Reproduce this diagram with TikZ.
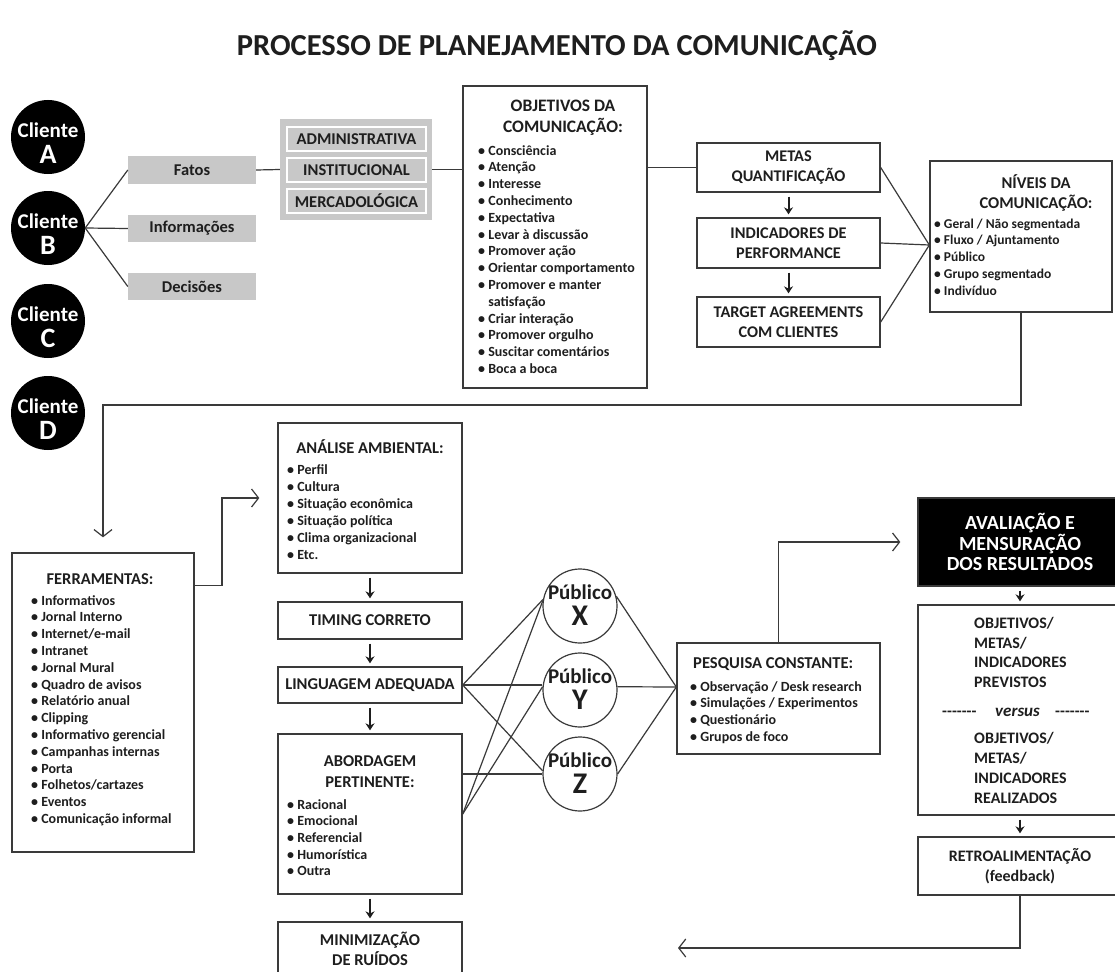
\documentclass[tikz,border=0pt]{standalone}
\usepackage{fontspec}
\setmainfont{Carlito}
\usetikzlibrary{arrows.meta}
\definecolor{ink}{HTML}{1E1E1E}
\definecolor{ln}{HTML}{3A3A3A}
\definecolor{greyfill}{HTML}{C8C8C8}
\newcommand{\fs}[1]{\fontsize{#1}{#1}\selectfont}
\newcommand{\fsl}[2]{\fontsize{#1}{#2}\selectfont}
\newcommand{\bul}{•\ }
\newcommand{\nob}{\phantom{•}\ }
\begin{document}
\begin{tikzpicture}[x=1pt,y=-1pt,
  box/.style={draw=ln, line width=1.4pt, fill=white, inner sep=0pt, text=ink, font=\bfseries},
  gbox/.style={fill=greyfill, inner sep=0pt, text=ink, font=\bfseries\fs{16.5}},
  conn/.style={draw=ln, line width=1.2pt},
  darr/.style={line width=2pt, draw=ink, -{Stealth[length=7pt,width=9pt]}, shorten >=3pt, shorten <=4pt},
  barb/.style={-{Straight Barb[length=7pt,width=18pt,line width=1.2pt]}},
  txt/.style={inner sep=0pt, text=ink, font=\bfseries},
  item/.style={txt, font=\bfseries\fs{14}, anchor=base west},
  btitle/.style={txt, font=\bfseries\fs{16.5}, anchor=base},
  omt/.style={txt, font=\bfseries\fs{16}, anchor=base west},
  pub/.style={circle, draw=ln, line width=1.2pt, fill=white, minimum size=74pt, inner sep=0pt},
]
\useasboundingbox (0,0) rectangle (1115,971);
\clip (0,0) rectangle (1115,971);
\fill[white] (0,0) rectangle (1115,971);

% title
\node[txt, font=\bfseries\fs{30.5}] (title) at (557,46) {PROCESSO DE PLANEJAMENTO DA COMUNICAÇÃO};

% clients
\foreach \n/\yy in {A/137,B/228,C/321,D/413} {
  \node[circle, fill=black, minimum size=74pt, inner sep=0pt] (cli\n) at (48,\yy) {};
  \node[txt, text=white, font=\bfseries\fs{21}, anchor=base] (cliT\n) at (48,\yy) {Cliente};
  \node[txt, text=white, font=\bfseries\fs{28}, anchor=base] (cliL\n) at (48,\yy+26) {\n};
}

% grey boxes
\node[gbox, minimum width=128pt, minimum height=28pt] (fatos) at (192,170) {Fatos};
\node[gbox, minimum width=128pt, minimum height=27pt] (info) at (192,228.5) {Informações};
\node[gbox, minimum width=128pt, minimum height=27pt] (dec) at (192,286.5) {Decisões};
\node[gbox, minimum width=152pt, minimum height=101pt] (grp) at (356,169.5) {};
\node[gbox, draw=white, line width=1.6pt, minimum width=139pt, minimum height=24pt] (adm) at (356.5,139) {ADMINISTRATIVA};
\node[gbox, draw=white, line width=1.6pt, minimum width=139pt, minimum height=24pt] (inst) at (356.5,170) {INSTITUCIONAL};
\node[gbox, draw=white, line width=1.6pt, minimum width=139pt, minimum height=24pt] (merc) at (356.5,201) {MERCADOLÓGICA};

% objetivos
\node[box, minimum width=184pt, minimum height=302pt] (obj) at (555,237) {};
\node[btitle, font=\bfseries\fs{17.5}] (objT1) at (563,112) {OBJETIVOS DA};
\node[btitle, font=\bfseries\fs{17.5}] (objT2) at (563,132) {COMUNICAÇÃO:};
\foreach \t [count=\i from 0] in {\bul Consciência,\bul Atenção,\bul Interesse,\bul Conhecimento,\bul Expectativa,\bul Levar à discussão,\bul Promover ação,\bul Orientar comportamento,\bul Promover e manter,\nob satisfação,\bul Criar interação,\bul Promover orgulho,\bul Suscitar comentários,\bul Boca a boca}
  \node[item] (obji\i) at (478,155+\i*16.8) {\t};

% metas column
\node[box, font=\bfseries\fsl{16.3}{20}, align=center, minimum width=183pt, minimum height=49pt] (metas) at (788.5,167.5) {METAS\\QUANTIFICAÇÃO};
\node[box, font=\bfseries\fsl{16.3}{20}, align=center, minimum width=183pt, minimum height=50pt] (ind) at (788.5,243) {INDICADORES DE\\PERFORMANCE};
\node[box, font=\bfseries\fsl{16.3}{20}, align=center, minimum width=183pt, minimum height=50pt] (target) at (788.5,322) {TARGET AGREEMENTS\\COM CLIENTES};

% niveis
\node[box, minimum width=182pt, minimum height=151pt] (niveis) at (1021,236.5) {};
\node[btitle] (nivT1) at (1036,188) {NÍVEIS DA};
\node[btitle] (nivT2) at (1036,208) {COMUNICAÇÃO:};
\foreach \t [count=\i from 0] in {Geral / Não segmentada,Fluxo / Ajuntamento,Público,Grupo segmentado,Indivíduo}
  \node[item, font=\bfseries\fs{13.5}] (nivi\i) at (934,228+\i*16.8) {\bul\t};

% ferramentas
\node[box, minimum width=182pt, minimum height=299pt] (ferr) at (103,702.5) {};
\node[btitle] (ferrT) at (100,584) {FERRAMENTAS:};
\foreach \t [count=\i from 0] in {Informativos,Jornal Interno,Internet/e-mail,Intranet,Jornal Mural,Quadro de avisos,Relatório anual,Clipping,Informativo gerencial,Campanhas internas,Porta,Folhetos/cartazes,Eventos,Comunicação informal}
  \node[item] (ferri\i) at (31,605+\i*16.8) {\bul\t};

% analise column
\node[box, minimum width=184pt, minimum height=150pt] (analise) at (370,498) {};
\node[btitle] (anaT) at (370,453) {ANÁLISE AMBIENTAL:};
\foreach \t [count=\i from 0] in {Perfil,Cultura,Situação econômica,Situação política,Clima organizacional,Etc.}
  \node[item] (anai\i) at (287,474+\i*17.1) {\bul\t};
\node[box, font=\bfseries\fs{16.5}, minimum width=184pt, minimum height=37pt] (timing) at (370,620.5) {TIMING CORRETO};
\node[box, font=\bfseries\fs{16.5}, minimum width=184pt, minimum height=36pt] (ling) at (370,685) {LINGUAGEM ADEQUADA};
\node[box, minimum width=184pt, minimum height=160pt] (abord) at (370,814) {};
\node[btitle] (abT1) at (370,766) {ABORDAGEM};
\node[btitle] (abT2) at (370,787) {PERTINENTE:};
\foreach \t [count=\i from 0] in {Racional,Emocional,Referencial,Humorística,Outra}
  \node[item] (abi\i) at (287,809+\i*16.7) {\bul\t};
\node[box, minimum width=184pt, minimum height=78pt] (minim) at (370,961) {};
\node[btitle] (miT1) at (370,945) {MINIMIZAÇÃO};
\node[btitle] (miT2) at (370,965) {DE RUÍDOS};

% publicos
\foreach \n/\yy in {X/606,Y/690,Z/774} {
  \node[pub] (\n) at (580,\yy) {};
  \node[txt, font=\bfseries\fs{21}, anchor=base] (\n T) at (580,\yy-7) {Público};
  \node[txt, font=\bfseries\fs{30}, anchor=base] (\n L) at (580,\yy+19) {\n};
}

% pesquisa
\node[box, minimum width=203pt, minimum height=111pt] (pesq) at (778.5,698.5) {};
\node[txt, font=\bfseries\fs{16.6}, anchor=base west] (pesT) at (693,668) {PESQUISA CONSTANTE:};
\foreach \t [count=\i from 0] in {Observação / Desk research,Simulações / Experimentos,Questionário,Grupos de foco}
  \node[item] (pesi\i) at (690,691+\i*16.7) {\bul\t};

% avaliacao column
\node[box, fill=black, text=white, font=\bfseries\fsl{20}{20.5}, align=center, minimum width=204pt, minimum height=88pt] (aval) at (1020,542) {AVALIAÇÃO E\\MENSURAÇÃO\\DOS RESULTADOS};
\node[box, minimum width=204pt, minimum height=210pt] (objm) at (1020,710) {};
\node[omt] (om1) at (974,628) {OBJETIVOS/};
\node[omt] (om2) at (974,648) {METAS/};
\node[omt] (om3) at (974,667) {INDICADORES};
\node[omt] (om4) at (974,687) {PREVISTOS};
\node[omt] (om5) at (974,743) {OBJETIVOS/};
\node[omt] (om6) at (974,763) {METAS/};
\node[omt] (om7) at (974,783) {INDICADORES};
\node[omt] (om8) at (974,803) {REALIZADOS};
\node[omt] (vd1) at (942,716) {-{}-{}-{}-{}-{}-{}-};
\node[txt, font=\bfseries\itshape\fs{17}, anchor=base west] (vs) at (995,716) {versus};
\node[omt] (vd2) at (1055,716) {-{}-{}-{}-{}-{}-{}-};
\node[box, font=\bfseries\fsl{16}{20}, align=center, minimum width=204pt, minimum height=58pt] (retro) at (1020,866) {RETROALIMENTAÇÃO\\(feedback)};

% down arrows
\draw[darr] (metas.south) -- (ind.north);
\draw[darr] (ind.south) -- (target.north);
\draw[darr] (analise.south) -- (timing.north);
\draw[darr] (timing.south) -- (ling.north);
\draw[darr] (ling.south) -- (abord.north);
\draw[darr] (abord.south) -- (minim.north);
\draw[darr] (aval.south) -- (objm.north);
\draw[darr] (objm.south) -- (retro.north);

% connectors
\draw[conn] (cliB.east) -- (fatos.west);
\draw[conn] (cliB.east) -- (info.west);
\draw[conn] (cliB.east) -- (dec.west);
\draw[conn] (fatos.east) -- (grp.west);
\draw[conn] (grp.east) -- (grp.east -| obj.west);
\draw[conn] (metas.west -| obj.east) -- (metas.west);
\draw[conn] (metas.east) -- ([yshift=-8.5pt]niveis.west);
\draw[conn] (ind.east) -- ([yshift=-8.5pt]niveis.west);
\draw[conn] (target.east) -- ([yshift=-8.5pt]niveis.west);

\coordinate (fbA) at (103,405);
\draw[conn, barb] (niveis.south) |- (fbA) -- ([yshift=15pt]ferr.north);
\coordinate (faA) at (222,498);
\draw[conn, barb] ([yshift=-33pt]ferr.north east) -| (faA) -- ([xshift=-18pt]analise.west);

\draw[conn] (ling.east) -- (X.170);
\draw[conn] (ling.east) -- (ling.east -| Y.west);
\draw[conn] (ling.east) -- (Z.175);
\draw[conn] (abord.east) -- (X.172);
\draw[conn] (abord.east) -- (Y.175);
\draw[conn] (Z.west -| abord.east) -- (Z.west);

\draw[conn] (X.15) -- ([yshift=11.5pt]pesq.west);
\draw[conn] (Y.5) -- ([yshift=11.5pt]pesq.west);
\draw[conn] (Z.0) -- ([yshift=11.5pt]pesq.west);

\draw[conn, barb] (pesq.north) |- ([xshift=-17pt]aval.west);
\coordinate (fbB) at (678,948);
\draw[conn, barb] (retro.south) |- (fbB);
\end{tikzpicture}
\end{document}
